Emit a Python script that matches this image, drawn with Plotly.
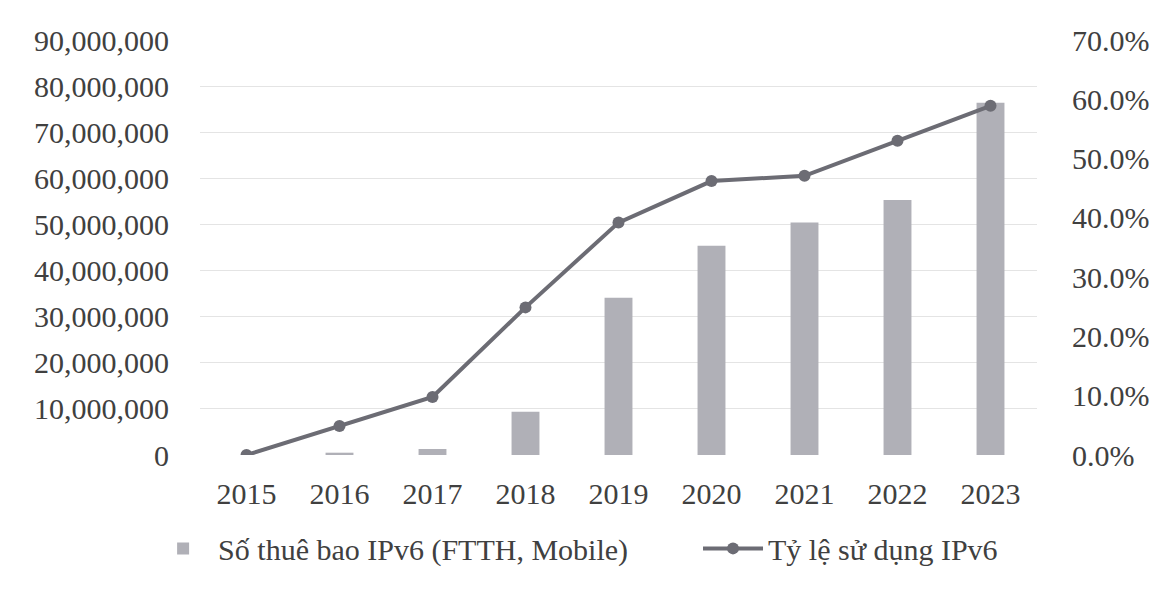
import plotly.graph_objects as go

years = ["2015", "2016", "2017", "2018", "2019", "2020", "2021", "2022", "2023"]
subscribers = [0, 500000, 1300000, 9400000, 34100000, 45400000, 50400000, 55300000, 76400000]
usage_rate = [0.0, 0.049, 0.098, 0.249, 0.392, 0.462, 0.471, 0.530, 0.589]

bar_name = "Số thuê bao IPv6 (FTTH, Mobile)"
line_name = "Tỷ lệ sử dụng IPv6"

FONT = "Liberation Serif"
TXT = "#404040"
FS = 30

fig = go.Figure()
fig.add_trace(go.Bar(
    x=years, y=subscribers, name=bar_name,
    marker=dict(color="#b0b0b7", line=dict(width=0)),
    yaxis="y", legend="legend",
))
fig.add_trace(go.Scatter(
    x=years, y=usage_rate, name=line_name, mode="lines+markers",
    line=dict(color="#6c6c74", width=4),
    marker=dict(color="#6c6c74", size=12),
    yaxis="y2", legend="legend2",
))

leg_common = dict(orientation="h", xanchor="left", y=-0.225, yanchor="middle",
                  bgcolor="rgba(0,0,0,0)",
                  font=dict(family=FONT, size=FS, color=TXT), itemwidth=60)

fig.update_layout(
    width=1166, height=589,
    paper_bgcolor="white", plot_bgcolor="white",
    margin=dict(l=192, r=137, t=32, b=142, autoexpand=False),
    font=dict(family=FONT, size=FS, color=TXT),
    bargap=0.7,
    showlegend=True,
    legend=dict(x=-0.062, **leg_common),
    legend2=dict(x=0.595, **leg_common),
    xaxis=dict(type="category", range=[-0.5, 8.5], showgrid=False, showline=False,
               automargin=False,
               ticks="outside", ticklen=12, tickcolor="rgba(0,0,0,0)",
               tickfont=dict(family=FONT, size=FS, color=TXT)),
    yaxis=dict(range=[0, 90000000], dtick=10000000, tickformat=",",
               showgrid=True, gridcolor="#e4e4e4", gridwidth=1, zeroline=False,
               automargin=False,
               ticks="outside", ticklen=24, tickcolor="rgba(0,0,0,0)",
               tickfont=dict(family=FONT, size=FS, color=TXT)),
    yaxis2=dict(range=[0, 0.7], dtick=0.1, tickformat=".1%", overlaying="y", side="right",
                showgrid=False, zeroline=False, automargin=False,
                ticks="outside", ticklen=28, tickcolor="rgba(0,0,0,0)",
                tickfont=dict(family=FONT, size=FS, color=TXT)),
)

fig.write_html("out.html")
